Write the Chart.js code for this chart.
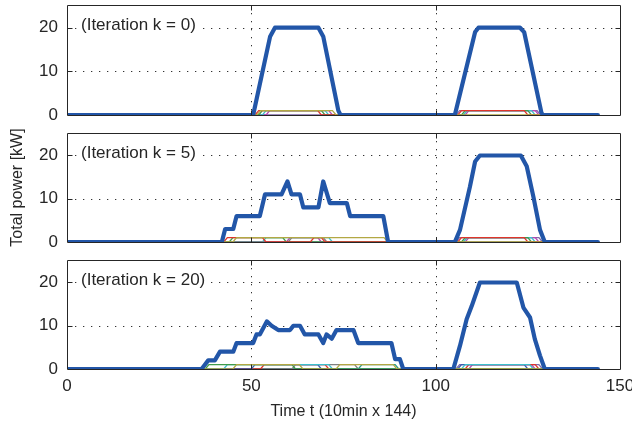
<!DOCTYPE html>
<html><head><meta charset="utf-8">
<script src="https://cdn.jsdelivr.net/npm/chart.js@4.4.0/dist/chart.umd.min.js"></script>
<style>
html,body{margin:0;padding:0;background:#fff;width:632px;height:433px;overflow:hidden}
.p{position:absolute;left:0;width:632px}
canvas{display:block}
</style></head><body>
<div class="p" style="top:0px"><canvas id="c1" width="632" height="128"></canvas></div>
<div class="p" style="top:128px"><canvas id="c2" width="632" height="127"></canvas></div>
<div class="p" style="top:255px"><canvas id="c3" width="632" height="178"></canvas></div>
<script>
// ---------- data ----------
const xTicks = [0, 50, 100, 150];
const yTicks = [0, 10, 20];
const panelLabels = ['(Iteration k = 0)', '(Iteration k = 5)', '(Iteration k = 20)'];
const xTitle = 'Time t (10min x 144)';
const yTitle = 'Total power [kW]';

// total power, [t, kW]
const totalK0 = [[0,0],[50.5,0],[55.1,18],[56.4,20],[68.2,20],[69.5,18],[73.6,1],[74.2,0],[105.2,0],[110.7,19],[111.6,20],[122.9,20],[124,19],[128.7,0.5],[129.1,0],[144,0]];
const totalK5 = [[0,0],[42,0],[42.9,3],[45.1,3],[46,6],[52.3,6],[53.7,11],[58.2,11],[59.8,14],[60.9,11],[63.2,11],[64.1,8],[68.2,8],[69.5,14],[71.3,9],[75.9,9],[76.8,6],[85.8,6],[87.1,0],[105.2,0],[106.6,2.8],[109.3,12.8],[110.7,18.6],[112,20],[123.1,20],[124.7,17.5],[126.5,10.5],[128.3,2.8],[129.6,0],[144,0]];
const totalK20 = [[0,0],[36.5,0],[37.4,1],[38.3,2],[40.1,2],[41.5,4],[45.1,4],[46,6],[50.5,6],[51.4,8],[52.3,8],[54.2,11],[55.5,10],[57.3,9],[60.5,9],[61.4,10],[63.2,10],[64.5,8],[68.2,8],[69.5,6],[70.4,8],[71.8,7],[73.1,9],[77.7,9],[79,6],[88,6],[89,2.3],[90.3,2.3],[91.2,0],[104.8,0],[106.6,5.4],[108.4,11.5],[109.8,14.6],[112,20],[122,20],[123.8,14.2],[125.6,11.9],[126.9,6.9],[128.3,3.1],[129.6,0],[144,0]];

// individual vehicles (thin lines), [t, kW]
const evK0Red     = [[0,0],[51,0],[52,1],[68,1],[69,0],[106,0],[107,1],[124,1],[125,0],[144,0]];
const evK0Green   = [[0,0],[52,0],[53,1],[69,1],[70,0],[107,0],[108,1],[125,1],[126,0],[144,0]];
const evK0Cyan    = [[0,0],[53,0],[54,1],[70,1],[71,0],[107.5,0],[108.5,1],[126,1],[127,0],[144,0]];
const evK0Magenta = [[0,0],[54,0],[55,1],[71,1],[72,0],[108,0],[109,1],[127,1],[128,0],[144,0]];
const evK0Olive   = [[0,0],[51.5,0],[52.5,1],[72,1],[73,0],[144,0]];
const evK0Purple  = [[0,0],[105.5,0],[106.5,1],[127.5,1],[128.5,0],[144,0]];

const evK5Red     = [[0,0],[42.5,0],[43.5,1],[53,1],[54,0],[66,0],[67,1],[69,1],[70,0],[106,0],[107,1],[124,1],[125,0],[144,0]];
const evK5Green   = [[0,0],[44,0],[45,1],[58.5,1],[59.5,0],[107,0],[108,1],[125,1],[126,0],[144,0]];
const evK5Cyan    = [[0,0],[53,0],[54,1],[71,1],[72,0],[107.5,0],[108.5,1],[126,1],[127,0],[144,0]];
const evK5Magenta = [[0,0],[59.5,0],[60.5,1],[68,1],[69,0],[108,0],[109,1],[127,1],[128,0],[144,0]];
const evK5Olive   = [[0,0],[45,0],[46,1],[86,1],[87,0],[144,0]];
const evK5Gray    = [[0,0],[60,0],[61,1],[69.5,1],[70.5,0],[144,0]];
const evK5Purple  = [[0,0],[105.5,0],[106.5,1],[128,1],[129,0],[144,0]];

const evK20Green  = [[0,0],[37.5,0],[38.5,1],[61,1],[62,0],[144,0]];
const evK20Cyan   = [[0,0],[42.5,0],[43.5,1],[71,1],[72,0],[107,0],[108,1],[125.5,1],[126.5,0],[144,0]];
const evK20Olive  = [[0,0],[45,0],[46,1],[63,1],[64,0],[73,0],[74,1],[88.5,1],[89.5,0],[144,0]];
const evK20Blue   = [[0,0],[50,0],[51,1],[68,1],[69,0],[106,0],[107,1],[124,1],[125,0],[144,0]];
const evK20Red    = [[0,0],[52.5,0],[53.5,1],[70,1],[71,0],[108,0],[109,1],[127,1],[128,0],[144,0]];
const evK20Gray   = [[0,0],[61,0],[62,1],[78,1],[79,0],[144,0]];
const evK20Teal   = [[0,0],[79,0],[80,1],[89,1],[90,0],[144,0]];
const evK20Purple = [[0,0],[105.5,0],[106.5,1],[128,1],[129,0],[144,0]];
const evK20Magenta= [[0,0],[109,0],[110,1],[126,1],[127,0],[144,0]];

// ---------- styling ----------
const FONT = '"Liberation Sans", Arial, Helvetica, sans-serif';
const TXT = '#262626';
const BLUE = '#2256a8';
const C = {red:'#e0352b', green:'#3f9b4a', cyan:'#3cc0cc', magenta:'#b548b5', olive:'#b3a844', purple:'#8068a8', gray:'#808080', blue:'#3a5cb0', teal:'#2a9a8a'};

const frame = {
  id: 'frame',
  beforeDatasetsDraw(chart, args, opts) {
    const {ctx, chartArea: a, scales: {x, y}} = chart;
    ctx.save();
    ctx.strokeStyle = '#333'; ctx.lineWidth = 1; ctx.setLineDash([1.3, 6.7]);
    ctx.beginPath();
    [50, 100].forEach(v => { const px = Math.round(x.getPixelForValue(v)) + 0.5; ctx.moveTo(px, a.top); ctx.lineTo(px, a.bottom); });
    [10, 20].forEach(v => { const py = Math.round(y.getPixelForValue(v)) + 0.5; ctx.moveTo(a.left, py); ctx.lineTo(a.right, py); });
    ctx.stroke(); ctx.setLineDash([]);
    ctx.font = '17px ' + FONT;
    const w = ctx.measureText(opts.text).width;
    const ty = y.getPixelForValue(20) - 2;
    ctx.fillStyle = '#fff'; ctx.fillRect(a.left + 11, ty - 11, w + 5, 22);
    ctx.fillStyle = TXT; ctx.textBaseline = 'middle'; ctx.textAlign = 'left';
    ctx.fillText(opts.text, a.left + 14, ty);
    ctx.restore();
  },
  afterDatasetsDraw(chart) {
    const {ctx, chartArea: a, scales: {x, y}} = chart;
    ctx.save();
    ctx.strokeStyle = TXT; ctx.lineWidth = 1;
    ctx.beginPath();
    const L = Math.round(a.left) + 0.5, R = Math.round(a.right) + 0.5, T = Math.round(a.top) + 0.5, B = Math.round(a.bottom) + 0.5;
    ctx.rect(L, T, R - L, B - T);
    [10, 20].forEach(v => { const py = Math.round(y.getPixelForValue(v)) + 0.5; ctx.moveTo(L, py); ctx.lineTo(L + 5, py); ctx.moveTo(R, py); ctx.lineTo(R - 5, py); });
    [50, 100].forEach(v => { const px = Math.round(x.getPixelForValue(v)) + 0.5; ctx.moveTo(px, T); ctx.lineTo(px, T + 5); ctx.moveTo(px, B); ctx.lineTo(px, B - 5); });
    ctx.stroke();
    ctx.restore();
  }
};

function pts(a) { return a.map(([x, y]) => ({x, y})); }
function thin(a, col) { return {data: pts(a), borderColor: col, borderWidth: 1.3, pointRadius: 0, fill: false, tension: 0}; }
function total(a) { return {data: pts(a), borderColor: BLUE, borderWidth: 4.2, pointRadius: 0, fill: false, tension: 0, borderJoinStyle: 'round', borderCapStyle: 'round'}; }

function makeChart(id, label, datasets, opt) {
  new Chart(document.getElementById(id), {
    type: 'line',
    data: {datasets},
    options: {
      responsive: false, animation: false, events: [],
      layout: {padding: {top: 5, right: 12, left: 0, bottom: 0}},
      plugins: {legend: {display: false}, tooltip: {enabled: false}, frame: {text: label}},
      scales: {
        x: {
          type: 'linear', min: 0, max: 150,
          afterBuildTicks: s => { s.ticks = xTicks.map(v => ({value: v})); },
          grid: {display: false, drawTicks: false}, border: {display: false},
          ticks: {display: opt.xLabels, padding: 7, color: TXT, font: {family: FONT, size: 17}, maxRotation: 0},
          title: {display: opt.xLabels, text: xTitle, color: TXT, font: {family: FONT, size: 16}, padding: {top: 12, bottom: 12}},
          afterFit: s => { s.height = opt.xH; s.paddingLeft = 0; s.paddingRight = 0; }
        },
        y: {
          type: 'linear', min: 0, max: 25.2,
          afterBuildTicks: s => { s.ticks = yTicks.map(v => ({value: v})); },
          grid: {display: false, drawTicks: false}, border: {display: false},
          ticks: {padding: 9, color: TXT, font: {family: FONT, size: 17}},
          title: {display: opt.yTitle, text: yTitle, color: TXT, font: {family: FONT, size: 16}, padding: {top: 8, bottom: 8}},
          afterFit: s => { s.width = 67; s.paddingTop = 0; s.paddingBottom = 0; }
        }
      }
    },
    plugins: [frame]
  });
}

makeChart('c1', panelLabels[0], [
  total(totalK0),
  thin(evK0Olive, C.olive), thin(evK0Red, C.red), thin(evK0Green, C.green),
  thin(evK0Cyan, C.cyan), thin(evK0Magenta, C.magenta), thin(evK0Purple, C.purple)
], {xLabels: false, xH: 13, yTitle: false});

makeChart('c2', panelLabels[1], [
  total(totalK5),
  thin(evK5Olive, C.olive), thin(evK5Red, C.red), thin(evK5Green, C.green), thin(evK5Gray, C.gray),
  thin(evK5Cyan, C.cyan), thin(evK5Magenta, C.magenta), thin(evK5Purple, C.purple)
], {xLabels: false, xH: 13, yTitle: true});

makeChart('c3', panelLabels[2], [
  total(totalK20),
  thin(evK20Olive, C.olive), thin(evK20Green, C.green), thin(evK20Cyan, C.cyan), thin(evK20Blue, C.blue),
  thin(evK20Red, C.red), thin(evK20Gray, C.gray), thin(evK20Teal, C.teal), thin(evK20Magenta, C.magenta),
  thin(evK20Purple, C.purple)
], {xLabels: true, xH: 64, yTitle: false});
</script>
</body></html>
